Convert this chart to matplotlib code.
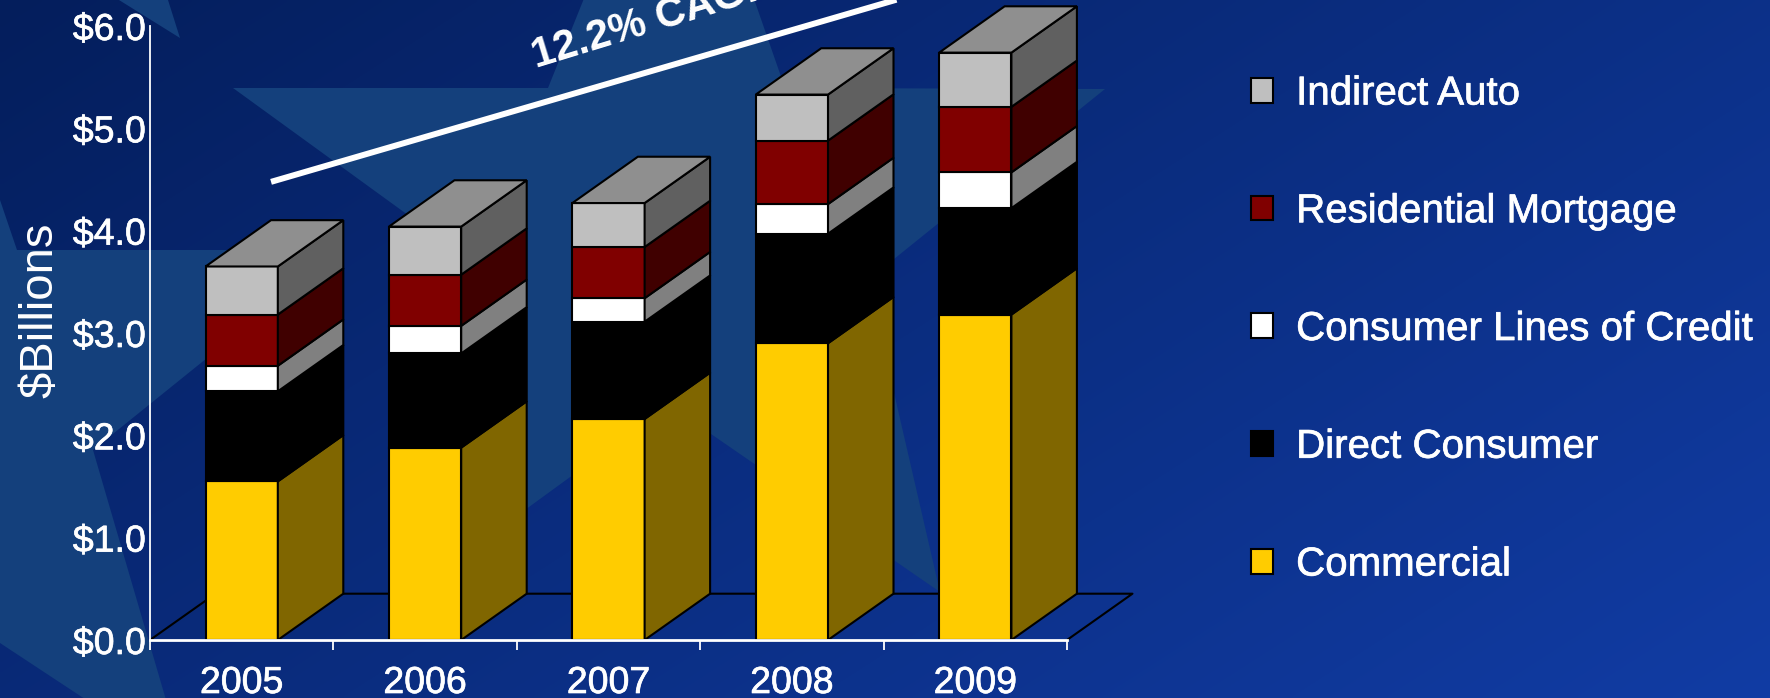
import matplotlib
matplotlib.use('Agg')
import matplotlib.pyplot as plt
import matplotlib.patheffects as pe
from matplotlib.patches import Patch, Polygon
import numpy as np

plt.rcParams['font.family'] = ['Liberation Sans', 'DejaVu Sans']

W, H = 1770, 698

years = ['2005', '2006', '2007', '2008', '2009']
commercial = [1.55, 1.88, 2.16, 2.90, 3.18]
direct_consumer = [0.88, 0.92, 0.95, 1.07, 1.04]
lines_of_credit = [0.25, 0.27, 0.23, 0.29, 0.35]
residential = [0.50, 0.50, 0.50, 0.62, 0.64]
indirect_auto = [0.47, 0.47, 0.43, 0.45, 0.53]

series_names = ['Commercial', 'Direct Consumer', 'Consumer Lines of Credit',
                'Residential Mortgage', 'Indirect Auto']
series_values = [commercial, direct_consumer, lines_of_credit, residential, indirect_auto]
face_colors = ['#FFCC00', '#000000', '#FFFFFF', '#800000', '#BFBFBF']
side_colors = ['#806600', '#000000', '#808080', '#400000', '#606060']
top_color = '#8F8F8F'

y_ticks = [0, 1, 2, 3, 4, 5, 6]

BAR_W = 0.394
DX, DY = 0.357, 0.4525   # depth of the 3d boxes in data units

# slight stroke so the white labels read a little heavier
heavy = [pe.withStroke(linewidth=0.5, foreground='white')]

fig = plt.figure(figsize=(W / 100, H / 100), dpi=100)

# backdrop: diagonal blue gradient with the big pale stars
bg = fig.add_axes([0, 0, 1, 1], zorder=-1)
yy, xx = np.mgrid[0:1:200j, 0:1:400j]
t = np.clip(0.62 * xx + 0.38 * yy, 0, 1)[..., None]
dark = np.array([4, 30, 92]) / 255
light = np.array([17, 60, 164]) / 255
bg.imshow(dark + (light - dark) * t, extent=(0, W, H, 0), aspect='auto', interpolation='bilinear')
star_color = '#14407C'
star_big = [(233, 88), (548, 88), (675, -228), (785, 88), (1105, 89), (868, 280),
            (940, 592), (669, 405), (400, 601), (503, 284)]
star_left = [(341, 250), (93, 450), (185, 765), (0, 643), (-20, 620), (-20, 190), (0, 200), (17, 250)]
star_corner = [(119, 0), (168, 0), (180, 38)]
for pts in (star_big, star_left, star_corner):
    bg.add_patch(Polygon(pts, closed=True, facecolor=star_color, edgecolor='none'))
bg.set_xlim(0, W)
bg.set_ylim(H, 0)
bg.axis('off')

ax = fig.add_axes([150 / W, (H - 640) / H, 917 / W, 614 / H])
ax.patch.set_alpha(0)
ax.set_xlim(0, 5)
ax.set_ylim(0, 6)

# floor of the 3d chart
floor_kw = dict(color='black', lw=1.5, clip_on=False, zorder=1, solid_capstyle='butt')
ax.plot([0, DX], [0, DY], **floor_kw)
ax.plot([DX, 5 + DX, 5], [DY, DY, 0], **floor_kw)

centers = np.arange(len(years)) + 0.5
edge_kw = dict(edgecolor='black', linewidth=1.5, clip_on=False, zorder=3, joinstyle='miter')

for i, cx in enumerate(centers):
    left = cx - BAR_W / 2
    right = cx + BAR_W / 2
    base = 0.0
    for vals, fc, sc in zip(series_values, face_colors, side_colors):
        val = vals[i]
        ax.bar(cx, val, BAR_W, bottom=base, color=fc, **edge_kw)
        side = [(right, base), (right + DX, base + DY), (right + DX, base + val + DY), (right, base + val)]
        ax.add_patch(Polygon(side, closed=True, facecolor=sc, **edge_kw))
        base += val
    roof = [(left, base), (left + DX, base + DY), (right + DX, base + DY), (right, base)]
    ax.add_patch(Polygon(roof, closed=True, facecolor=top_color, **edge_kw))

# growth line and its label
ax.plot([0.66, 4.07], [4.477, 6.257], color='white', lw=4.3, clip_on=False, zorder=4, solid_capstyle='butt')
fig.text(536 / W, (H - 68) / H, '12.2% CAGR', color='white', fontsize=30, fontweight='bold',
         rotation=17, rotation_mode='anchor', ha='left', va='baseline')

for name in ('top', 'right'):
    ax.spines[name].set_visible(False)
ax.spines['left'].set_color('white')
ax.spines['left'].set_linewidth(1.3)
ax.spines['left'].set_zorder(5)
ax.spines['bottom'].set_color('white')
ax.spines['bottom'].set_linewidth(2.0)
ax.spines['bottom'].set_zorder(5)

ax.set_yticks(y_ticks)
ax.set_yticklabels([f'${v:.1f}' for v in y_ticks], color='white', fontsize=27, path_effects=heavy)
ax.tick_params(axis='y', length=0, pad=3)
ax.set_xticks(np.arange(len(years) + 1))
ax.set_xticklabels([])
ax.set_xticks(centers, minor=True)
ax.set_xticklabels(years, minor=True, color='white', fontsize=27, path_effects=heavy)
ax.tick_params(axis='x', which='major', length=7.5, width=1.3, color='white', direction='out')
ax.tick_params(axis='x', which='minor', length=0, pad=18)

ax.set_ylabel('$Billions', color='white', fontsize=34)
ax.yaxis.set_label_coords(-88 / 917, 330 / 614)

handles = [Patch(facecolor=fc, edgecolor='black', linewidth=1.5) for fc in face_colors[::-1]]
leg = fig.legend(handles, series_names[::-1], loc='center left', bbox_to_anchor=(1251 / W, (H - 329) / H),
                 frameon=False, fontsize=29, labelcolor='white', borderpad=0, borderaxespad=0,
                 handlelength=0.55, handleheight=0.57, handletextpad=0.57, labelspacing=1.98)
for txt in leg.get_texts():
    txt.set_path_effects(heavy)

fig.savefig('out.png', dpi=100)
